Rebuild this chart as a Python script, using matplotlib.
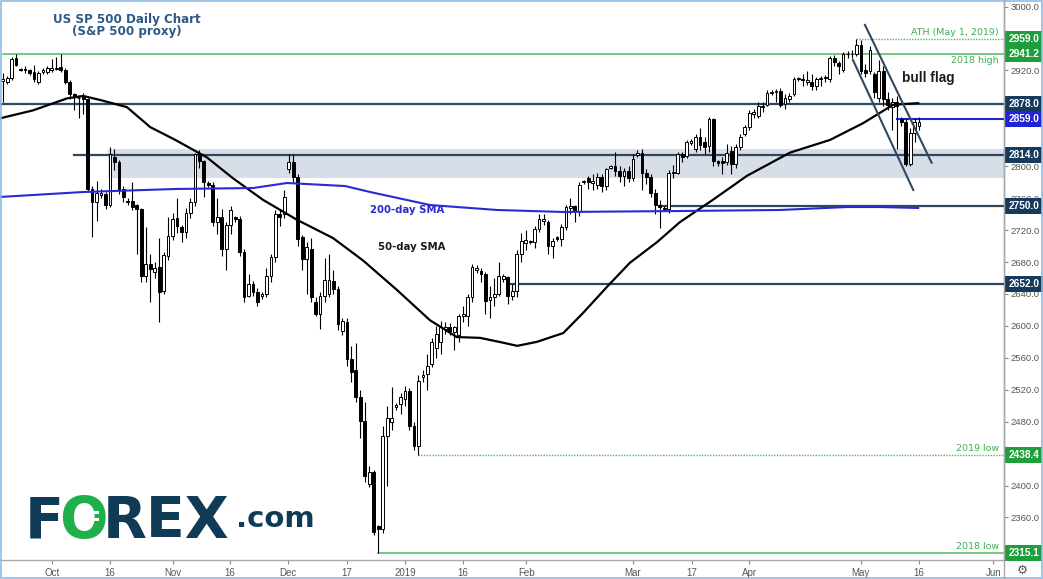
#!/usr/bin/env python3
"""
US SP 500 daily candlestick chart (S&P 500 proxy).

Candles, 50/200-day SMAs, support/resistance levels, the support zone
and the bull-flag channel, with the price-axis tags on the right.

Outputs:
- out.png
"""
import matplotlib
matplotlib.use('Agg')  # Non-interactive backend
import matplotlib.pyplot as plt
import matplotlib.transforms as mtransforms
from matplotlib.lines import Line2D
from matplotlib.patches import Rectangle

# Candles, one per bar (oldest first)
opens = [2907, 2905, 2911, 2936, 2921.5, 2921, 2920, 2918, 2906, 2918,
         2918, 2920, 2922, 2924, 2921, 2906, 2890, 2886, 2887, 2884,
         2771, 2755, 2764, 2765, 2752, 2812, 2805, 2771, 2757, 2756,
         2751, 2746, 2662, 2677, 2667, 2674, 2644, 2688, 2713, 2735,
         2724, 2717, 2742, 2755, 2815, 2806, 2779, 2777, 2730, 2736,
         2696, 2726, 2736, 2734, 2692, 2638, 2653, 2643, 2637, 2640,
         2662, 2686, 2740, 2740, 2796, 2805, 2786, 2711, 2684, 2696,
         2630, 2615, 2638, 2640, 2656, 2646, 2594, 2605, 2558, 2545,
         2511, 2481, 2402, 2417, 2349, 2346, 2462, 2480, 2499, 2502,
         2509, 2519, 2475, 2450, 2536, 2540, 2552, 2572, 2580, 2596,
         2599, 2592, 2588, 2613, 2613, 2636, 2670, 2669, 2665, 2632,
         2636, 2640, 2659, 2661, 2637, 2644, 2690, 2704, 2705, 2705,
         2721, 2731, 2730, 2700, 2711, 2709, 2724, 2748, 2750, 2744,
         2780, 2785, 2779, 2777, 2786, 2775, 2798, 2800, 2794, 2788,
         2794, 2785, 2814, 2817, 2792, 2786, 2767, 2752, 2748, 2746,
         2791, 2792, 2815, 2813, 2829, 2821, 2836, 2830, 2825, 2859,
         2806, 2806, 2805, 2819, 2803, 2824, 2840, 2849, 2866, 2863,
         2874, 2877, 2892, 2893, 2894, 2878, 2884, 2890, 2909, 2909,
         2906, 2906, 2900, 2909, 2910, 2909, 2936, 2929, 2921, 2940,
         2940, 2940, 2952, 2921, 2919, 2916, 2886, 2919, 2884, 2874,
         2880, 2859, 2856, 2803, 2842, 2850]
highs = [2917, 2913, 2937, 2940, 2923, 2925, 2922, 2927, 2919, 2923,
         2925, 2934, 2937, 2941, 2923, 2908, 2892, 2889, 2892, 2886,
         2775, 2781, 2772, 2768, 2824, 2821, 2808, 2775, 2760, 2780,
         2753, 2748, 2724, 2690, 2680, 2710, 2693, 2736, 2741, 2760,
         2727, 2748, 2760, 2817, 2820, 2808, 2781, 2780, 2760, 2746,
         2730, 2750, 2738, 2738, 2696, 2665, 2656, 2648, 2642, 2672,
         2690, 2745, 2746, 2770, 2815, 2815, 2790, 2714, 2705, 2710,
         2636, 2642, 2685, 2690, 2670, 2650, 2610, 2610, 2575, 2578,
         2520, 2505, 2425, 2420, 2351, 2475, 2500, 2524, 2503, 2516,
         2525, 2522, 2480, 2538, 2545, 2565, 2585, 2600, 2606, 2605,
         2604, 2600, 2615, 2625, 2640, 2678, 2676, 2672, 2668, 2650,
         2660, 2680, 2665, 2663, 2652, 2695, 2716, 2720, 2708, 2725,
         2740, 2740, 2733, 2710, 2712, 2728, 2752, 2760, 2752, 2780,
         2783, 2788, 2790, 2792, 2790, 2798, 2802, 2818, 2800, 2798,
         2800, 2815, 2820, 2822, 2796, 2790, 2772, 2758, 2750, 2795,
         2802, 2818, 2818, 2833, 2834, 2840, 2848, 2836, 2862, 2861,
         2808, 2812, 2828, 2825, 2828, 2840, 2852, 2870, 2872, 2880,
         2880, 2895, 2895, 2897, 2898, 2890, 2892, 2912, 2912, 2915,
         2919, 2915, 2912, 2913, 2914, 2938, 2939, 2932, 2943, 2944,
         2946, 2959, 2958, 2928, 2950, 2918, 2933, 2925, 2893, 2885,
         2888, 2862, 2860, 2848, 2860, 2862]
lows = [2880, 2903, 2908, 2925, 2919, 2917, 2914, 2906, 2903, 2915,
        2916, 2918, 2920, 2918, 2903, 2884, 2871, 2861, 2866, 2769,
        2711, 2731, 2760, 2746, 2749, 2795, 2765, 2755, 2752, 2745,
        2690, 2655, 2655, 2630, 2660, 2605, 2640, 2683, 2708, 2716,
        2705, 2710, 2735, 2750, 2798, 2762, 2774, 2725, 2715, 2688,
        2670, 2715, 2730, 2688, 2630, 2636, 2638, 2625, 2634, 2636,
        2655, 2680, 2725, 2735, 2792, 2780, 2700, 2670, 2640, 2630,
        2612, 2596, 2630, 2636, 2640, 2595, 2588, 2550, 2530, 2505,
        2460, 2405, 2398, 2338, 2315.1, 2340, 2400, 2470, 2495, 2490,
        2500, 2470, 2445, 2438.4, 2530, 2520, 2548, 2560, 2565, 2590,
        2588, 2570, 2580, 2605, 2600, 2630, 2666, 2655, 2615, 2610,
        2625, 2637, 2655, 2627, 2632, 2636, 2680, 2695, 2702, 2698,
        2718, 2726, 2690, 2685, 2706, 2700, 2720, 2740, 2730, 2738,
        2778, 2772, 2770, 2772, 2768, 2770, 2796, 2788, 2780, 2775,
        2780, 2782, 2812, 2770, 2778, 2762, 2740, 2722, 2744, 2742,
        2785, 2790, 2805, 2810, 2826, 2818, 2820, 2815, 2818, 2800,
        2800, 2790, 2802, 2790, 2798, 2820, 2838, 2845, 2860, 2860,
        2868, 2875, 2889, 2880, 2874, 2872, 2880, 2888, 2907, 2900,
        2902, 2895, 2895, 2900, 2906, 2905, 2925, 2915, 2918, 2936,
        2936, 2938, 2915, 2912, 2915, 2885, 2880, 2875, 2870, 2846,
        2821, 2850, 2800, 2800, 2830, 2846]
closes = [2909, 2911, 2934, 2927, 2920.5, 2922, 2917, 2909, 2917, 2921,
          2923, 2923, 2923, 2920, 2905, 2890, 2887, 2885, 2884, 2771,
          2755, 2767, 2767, 2752, 2815, 2805, 2771, 2761, 2755, 2749,
          2746, 2662, 2677, 2671, 2673, 2643, 2689, 2713, 2734, 2725,
          2717, 2742, 2755, 2815, 2806, 2780, 2777, 2730, 2736, 2696,
          2726, 2745, 2734, 2692, 2636, 2653, 2643, 2630, 2640, 2662,
          2686, 2740, 2737, 2762, 2805, 2786, 2709, 2684, 2699, 2636,
          2615, 2638, 2658, 2658, 2646, 2602, 2606, 2558, 2542, 2511,
          2481, 2412, 2417, 2342, 2345, 2462, 2484, 2484, 2501, 2511,
          2519, 2475, 2450, 2531, 2538, 2550, 2580, 2590, 2599, 2599,
          2593, 2598, 2613, 2615, 2636, 2674, 2672, 2665, 2631, 2636,
          2640, 2662, 2662, 2637, 2644, 2690, 2706, 2708, 2706, 2721,
          2734, 2734, 2700, 2706, 2709, 2724, 2749, 2750, 2744, 2777,
          2781, 2780, 2781, 2786, 2775, 2796, 2800, 2794, 2788, 2794,
          2785, 2809, 2817, 2792, 2786, 2767, 2752, 2749, 2746, 2792,
          2793, 2815, 2811, 2830, 2831, 2836, 2827, 2824, 2859, 2806,
          2804, 2804, 2817, 2803, 2824, 2836, 2849, 2867, 2868, 2875,
          2876, 2892, 2893, 2894, 2877, 2886, 2888, 2909, 2910, 2908,
          2908, 2900, 2909, 2910, 2912, 2936, 2930, 2926, 2940, 2941,
          2941, 2952, 2919, 2917, 2946, 2893, 2919, 2884, 2877, 2880,
          2876, 2855, 2803, 2842, 2855, 2856]

# 50-day and 200-day SMA, read at points along the curves (bar, value)
sma50_bar = [-0.6, 6.8, 14.4, 18.0, 21.8, 27.8, 33.0, 38.6, 45.7, 51.5,
             58.2, 65.8, 73.9, 80.6, 88.2, 95.6, 101.6, 106.8, 111.9, 115.1,
             119.5, 125.4, 129.8, 135.2, 140.3, 146.4, 151.5, 158.9, 166.5,
             176.1, 185.1, 192.5, 199.2, 204.8]
sma50_val = [2860, 2870, 2885, 2888, 2883, 2874, 2849, 2833, 2811, 2785,
             2758, 2733, 2710, 2682, 2645, 2607, 2586, 2585, 2579, 2575,
             2580, 2591, 2616, 2649, 2679, 2705, 2730, 2758, 2788,
             2817, 2833, 2854, 2877, 2879]
sma200_bar = [-0.6, 18.0, 38.6, 56.0, 63.6, 76.6, 82.2, 95.6, 110.6, 125.4,
              151.5, 173.9, 188.9, 196.3, 204.8]
sma200_val = [2761.5, 2767.7, 2771.5, 2772.7, 2779.0, 2775.2, 2767.7, 2751.4,
              2745.2, 2742.7, 2743.9, 2745.2, 2748.9, 2748.9, 2747.7]

# Horizontal levels and the bar where each one starts
level_values = [2959.0, 2941.2, 2878.0, 2859.0, 2814.0, 2750.0, 2652.0, 2438.4, 2315.1]
level_start = [191, 0, -1, 200, 16, 147, 113, 93, 84]
level_kind = ['ath', 'green', 'navy', 'blue', 'navy', 'navy', 'navy', 'ath', 'green']
level_names = ['ATH (May 1, 2019)', '2018 high', '', '', '', '', '', '2019 low', '2018 low']

# Support zone (price band) and the bar where it starts
zone_low, zone_high, zone_start = 2785.0, 2821.5, 23.6

# Bull flag channel: (bar, price) end points
flag_upper = [(192.9, 2977.0), (207.8, 2804.4)]
flag_lower = [(190.2, 2933.1), (203.7, 2770.2)]

# Axis ticks
tick_bars = [11.0, 23.9, 38.0, 50.9, 63.9, 77.0, 90.0, 102.9, 117.1, 140.9,
             154.1, 167.0, 191.9, 205.0, 221.6]
tick_labels = ['Oct', '16', 'Nov', '16', 'Dec', '17', '2019', '16', 'Feb', 'Mar',
               '17', 'Apr', 'May', '16', 'Jun']
price_ticks = [3000, 2920, 2800, 2760, 2720, 2680, 2640, 2600, 2560, 2520,
               2480, 2400, 2360]
last_price = 2856.6

COLORS = {
    'navy': '#2f4860',
    'navy_tag': '#163a5c',
    'blue': '#2323d6',
    'green': '#4cbc5c',
    'green_tag': '#1f9e3c',
    'green_text': '#3fae4f',
    'zone': '#d7dee7',
    'sma200': '#2a2ad0',
    'title': '#2e5a88',
}

W, H = 1043, 579
AX_W, AX_H = 1004, 560
AXIS_FONT = 'Liberation Sans'


def px(x, y):
    """Reference pixel position -> axes fraction."""
    return x / AX_W, 1 - y / AX_H


def draw_candles(ax):
    for i, (o, h, l, c) in enumerate(zip(opens, highs, lows, closes)):
        up = c >= o
        ax.vlines(i, l, h, color='black', linewidth=0.8, zorder=4)
        ax.bar(i, max(abs(c - o), 0.6), bottom=min(o, c), width=0.62,
               color='white' if up else 'black', edgecolor='black',
               linewidth=0.7, zorder=5)


def draw_levels(ax, xmin, xmax):
    ax.axhspan(zone_low, zone_high, xmin=(zone_start - xmin) / (xmax - xmin),
               color=COLORS['zone'], zorder=1, lw=0)
    blend = mtransforms.blended_transform_factory(ax.transAxes, ax.transData)
    for val, start, kind, name in zip(level_values, level_start, level_kind, level_names):
        x0 = max(start, xmin)
        if kind == 'ath':
            ax.plot([x0, xmax], [val, val], color=COLORS['green'], lw=1.0,
                    linestyle=(0, (1, 1)), zorder=3)
            tag = COLORS['green_tag']
        elif kind == 'green':
            ax.plot([x0, xmax], [val, val], color=COLORS['green'], lw=1.1, zorder=3)
            tag = COLORS['green_tag']
        elif kind == 'blue':
            ax.plot([x0, xmax], [val, val], color=COLORS['blue'], lw=1.5, zorder=3)
            tag = COLORS['blue']
        else:
            ax.plot([x0, xmax], [val, val], color=COLORS['navy'], lw=1.6, zorder=3)
            tag = COLORS['navy_tag']
        if name:
            # "2018 high" sits under its line, the others above
            if name == '2018 high':
                ax.text(0.995, val - 3, name, transform=blend, ha='right', va='top',
                        fontsize=6.8, color=COLORS['green_text'], zorder=6)
            else:
                ax.text(0.995, val + 2.5, name, transform=blend, ha='right', va='bottom',
                        fontsize=6.8, color=COLORS['green_text'], zorder=6)
        ax.text(1.0045, val, f'{val:.1f}', transform=blend, ha='left', va='center',
                fontsize=7.3, family=AXIS_FONT, color='white', fontweight='bold',
                clip_on=False, zorder=10,
                bbox=dict(boxstyle='square,pad=0.3', fc=tag, ec='none'))


def draw_logo(ax):
    navy = '#0f3b57'
    green = '#1fb04b'
    kw = dict(transform=ax.transAxes, fontsize=41, fontweight='bold',
              va='baseline', ha='left', family='DejaVu Sans', zorder=2)
    ax.text(*px(25, 538), 'F', color=navy, **kw)
    ax.text(*px(59, 538), 'O', color=green, **kw)
    ax.text(*px(103, 538), 'REX', color=navy, **kw)
    # white plug bars inside the green O
    for yy in (514, 521):
        x0, y0 = px(83, yy)
        ax.add_patch(Rectangle((x0, y0), 16 / AX_W, 3 / AX_H, transform=ax.transAxes,
                               color='white', zorder=3, lw=0))
    ax.text(*px(236, 527), '.com', color=navy, transform=ax.transAxes,
            fontsize=21, fontweight='bold', ha='left', va='baseline', zorder=2)


def plot_chart(output_file='out.png'):
    fig = plt.figure(figsize=(W / 100, H / 100), dpi=100)
    ax = fig.add_axes([0, (H - AX_H) / H, AX_W / W, AX_H / H])

    xmin, xmax = -0.604, 224.0
    ax.set_xlim(xmin, xmax)
    ax.set_ylim(2306.74, 3008.23)

    draw_levels(ax, xmin, xmax)
    draw_candles(ax)

    ax.plot(sma50_bar, sma50_val, color='black', lw=1.6, zorder=6)
    ax.plot(sma200_bar, sma200_val, color=COLORS['sma200'], lw=1.5, zorder=6)

    for line in (flag_upper, flag_lower):
        (xa, ya), (xb, yb) = line
        ax.plot([xa, xb], [ya, yb], color=COLORS['navy'], lw=1.5, zorder=7)

    # Annotations
    ax.text(*px(127, 19), 'US SP 500 Daily Chart', transform=ax.transAxes,
            ha='center', va='center', fontsize=8.6, fontweight='bold', color=COLORS['title'])
    ax.text(*px(127, 31), '(S&P 500 proxy)', transform=ax.transAxes,
            ha='center', va='center', fontsize=8.6, fontweight='bold', color=COLORS['title'])
    ax.text(*px(370, 210), '200-day SMA', transform=ax.transAxes, ha='left',
            va='center', fontsize=7.3, fontweight='bold', color=COLORS['sma200'])
    ax.text(*px(378, 247), '50-day SMA', transform=ax.transAxes, ha='left',
            va='center', fontsize=7.3, fontweight='bold', color='#1a1a1a')
    ax.text(*px(902, 78), 'bull flag', transform=ax.transAxes, ha='left',
            va='center', fontsize=9.8, fontweight='bold', family='Liberation Sans',
            color='#1a1a1a')
    draw_logo(ax)

    # Axes styling
    for side in ('top', 'left'):
        ax.spines[side].set_visible(False)
    for side in ('bottom', 'right'):
        ax.spines[side].set_color('#a8a8a8')
        ax.spines[side].set_linewidth(1.0)

    ax.yaxis.tick_right()
    ax.set_yticks(price_ticks + [last_price])
    ax.set_yticklabels([f'{v:.1f}' for v in price_ticks + [last_price]],
                       family=AXIS_FONT)
    ax.tick_params(axis='y', direction='out', length=3, width=0.8, pad=2,
                   colors='#8a8a8a', labelcolor='#555555', labelsize=6.8)
    ax.set_xticks(tick_bars)
    ax.set_xticklabels(tick_labels, family=AXIS_FONT)
    ax.tick_params(axis='x', direction='out', length=3, width=0.8, pad=3,
                   colors='#8a8a8a', labelcolor='#555555', labelsize=7)

    # Price axis divider running to the bottom, gear icon, outer frame
    fig.add_artist(Line2D([AX_W / W, AX_W / W], [0, 1], color='#a8a8a8', lw=1.0))
    fig.text(1022 / W, 1 - 570 / H, '\u2699', ha='center', va='center',
             fontsize=9, color='#555555')
    fig.add_artist(plt.Rectangle((0.0005, 0.001), 0.999, 0.998, fill=False,
                                 edgecolor='#8cbce8', lw=1.2))

    fig.savefig(output_file, dpi=100)
    plt.close(fig)


if __name__ == '__main__':
    plot_chart()
